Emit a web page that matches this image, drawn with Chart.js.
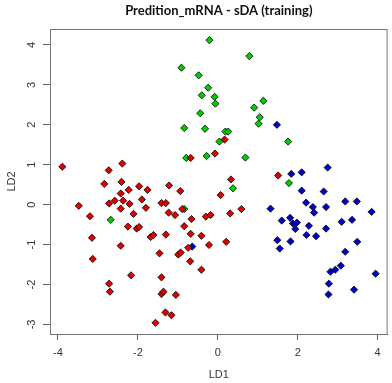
<!DOCTYPE html>
<html>
<head>
<meta charset="utf-8">
<script src="https://cdn.jsdelivr.net/npm/chart.js@4.4.1/dist/chart.umd.min.js"></script>
<style>
  html, body { margin: 0; padding: 0; background: #fff; }
</style>
</head>
<body>
<canvas id="ldaPlot" width="392" height="383"></canvas>
<script>
// Data (LD1, LD2 per group)
const redLD1 = [-0.68, -0.07, -3.89, -2.73, -2.39, 0.17, 1.51, 0.33, -2.84, -2.41, -1.97, -1.76, -2.23, -1.22, -0.94, -2.43, -2.37, -2.58, -2.72, -2.21, -1.90, -1.41, -1.30, -3.48, -2.43, -1.80, -0.89, -1.23, -1.07, -2.11, -3.20, -0.66, -0.30, -0.18, -2.25, -2.03, -1.97, -0.84, -1.68, -1.61, -1.30, -0.68, -0.41, -3.15, -2.43, -0.74, -0.22, -1.46, -0.99, -0.93, -3.13, -0.69, -0.41, -2.17, -1.41, -2.72, -2.70, -1.41, -1.36, -1.05, -1.31, -1.16, -1.56, 0.07, 0.59, 0.31, 0.21];
const redLD2 = [1.17, 1.28, 0.95, 0.86, 1.03, 1.63, 0.73, 0.63, 0.52, 0.57, 0.46, 0.37, 0.37, 0.48, 0.34, 0.28, 0.10, 0.10, 0.03, 0.02, 0.13, 0.04, 0.04, -0.03, -0.10, -0.08, -0.11, -0.20, -0.26, -0.23, -0.29, -0.36, -0.30, -0.26, -0.55, -0.60, -0.56, -0.54, -0.81, -0.76, -0.75, -0.73, -0.78, -0.83, -1.03, -1.08, -1.01, -1.22, -1.25, -1.20, -1.36, -1.42, -1.63, -1.77, -1.82, -1.98, -2.18, -2.24, -2.18, -2.26, -2.70, -2.77, -2.96, 0.24, -0.11, -0.22, -0.93];

const greenLD1 = [-0.21, -0.91, -0.48, -0.24, -0.40, -0.08, -0.06, -0.44, -0.84, -0.32, -0.79, -0.28, 0.79, 1.14, 0.91, 1.05, 1.02, 1.76, 0.19, 0.26, 0.04, 0.69, 0.38, 1.78, -0.84, -2.68];
const greenLD2 = [4.12, 3.43, 3.24, 2.93, 2.74, 2.70, 2.53, 2.29, 1.92, 1.90, 1.17, 1.22, 3.72, 2.60, 2.43, 2.19, 2.03, 1.58, 1.83, 1.83, 1.58, 1.18, 0.41, 0.54, -0.11, -0.38];

const blueLD1 = [1.48, 2.75, 2.10, 1.84, -0.64, 2.10, 2.65, 2.21, 2.38, 2.41, 2.71, 3.19, 3.48, 3.85, 1.32, 1.60, 1.81, 1.88, 1.98, 1.94, 2.28, 2.71, 3.10, 3.36, 1.49, 1.82, 1.55, 2.22, 2.46, 3.49, 3.19, 3.08, 2.94, 2.82, 3.95, 2.78, 2.77, 3.41];
const blueLD2 = [2.00, 0.93, 0.81, 0.77, -1.05, 0.35, 0.33, 0.05, -0.06, -0.20, -0.06, 0.08, 0.08, -0.18, -0.10, -0.40, -0.33, -0.47, -0.45, -0.61, -0.53, -0.60, -0.43, -0.38, -0.89, -0.92, -1.10, -0.76, -0.79, -0.93, -1.18, -1.53, -1.63, -1.68, -1.73, -1.98, -2.25, -2.13];

// Axis ticks
const xTickValues = [-4, -2, 0, 2, 4];
const yTickValues = [-3, -2, -1, 0, 1, 2, 3, 4];

// Zip two arrays into scatter points
function toPoints(xs, ys) {
    return xs.map((x, i) => ({ x: x, y: ys[i] }));
}

// Box around the plot region, like R's box()
const plotBox = {
    id: "plotBox",
    afterDraw(chart) {
        const { ctx, chartArea } = chart;
        ctx.save();
        ctx.strokeStyle = "#777";
        ctx.lineWidth = 1;
        ctx.strokeRect(chartArea.left + 0.5, chartArea.top + 0.5,
            chartArea.right - chartArea.left - 1, chartArea.bottom - chartArea.top);
        ctx.restore();
    }
};

const pointStyle = {
    pointStyle: "rectRot",
    pointRadius: 3.6,
    pointHoverRadius: 3.6,
    borderColor: "#000",
    borderWidth: 0.8
};

const ctx = document.getElementById("ldaPlot").getContext("2d");
new Chart(ctx, {
    type: "scatter",
    data: {
        datasets: [
            Object.assign({ label: "red", data: toPoints(redLD1, redLD2), backgroundColor: "#e00000" }, pointStyle),
            Object.assign({ label: "green", data: toPoints(greenLD1, greenLD2), backgroundColor: "#00cd00" }, pointStyle),
            Object.assign({ label: "blue", data: toPoints(blueLD1, blueLD2), backgroundColor: "#0000cd" }, pointStyle)
        ]
    },
    options: {
        responsive: false,
        animation: false,
        layout: { padding: { left: 0, right: 3, top: 0, bottom: 0 } },
        plugins: {
            legend: { display: false },
            tooltip: { enabled: false },
            title: {
                display: true,
                fullSize: false,
                text: "Predition_mRNA - sDA (training)",
                color: "#111",
                font: { family: "Lato", size: 13, weight: "bold", lineHeight: 1.2 },
                padding: { top: 3, bottom: 10.4 }
            }
        },
        scales: {
            x: {
                type: "linear",
                min: -4.2,
                max: 4.25,
                afterBuildTicks: (scale) => { scale.ticks = xTickValues.map(v => ({ value: v })); },
                afterFit: (scale) => { scale.height = 49; },
                grid: { drawOnChartArea: false, drawTicks: true, tickLength: 6, color: "#666" },
                border: { display: true, color: "#777" },
                ticks: {
                    color: "#333",
                    font: { family: "Liberation Sans", size: 11 },
                    padding: 6,
                    maxRotation: 0
                },
                title: {
                    display: true,
                    text: "LD1",
                    color: "#333",
                    font: { family: "Liberation Sans", size: 11, lineHeight: 1.2 },
                    padding: { top: 0, bottom: 1.5 }
                }
            },
            y: {
                type: "linear",
                min: -3.24,
                max: 4.4,
                afterBuildTicks: (scale) => { scale.ticks = yTickValues.map(v => ({ value: v })); },
                afterFit: (scale) => { scale.width = 50; },
                grid: { drawOnChartArea: false, drawTicks: true, tickLength: 7, color: "#666" },
                border: { display: true, color: "#777" },
                ticks: {
                    color: "#333",
                    font: { family: "Liberation Sans", size: 11 },
                    padding: 6,
                    minRotation: 90,
                    maxRotation: 90,
                    crossAlign: "center"
                },
                title: {
                    display: true,
                    text: "LD2",
                    color: "#333",
                    font: { family: "Liberation Sans", size: 11, lineHeight: 1.2 },
                    padding: { top: 5, bottom: 0 }
                }
            }
        }
    },
    plugins: [plotBox]
});
</script>
</body>
</html>
